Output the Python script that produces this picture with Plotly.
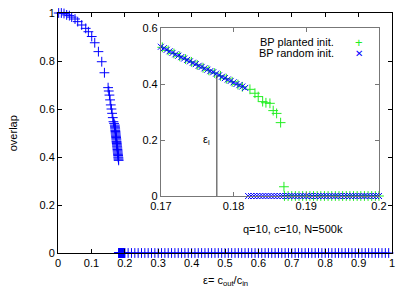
import plotly.graph_objects as go

# ---------------- data ----------------
# main panel: overlap vs epsilon (random init), coarse part
main_eps_curve = [0.002, 0.010, 0.018, 0.026, 0.034, 0.041, 0.051, 0.059, 0.071, 0.083,
                  0.091, 0.101, 0.110, 0.121, 0.131, 0.139, 0.150, 0.152, 0.154, 0.156,
                  0.158, 0.160, 0.162, 0.164, 0.166, 0.168]
main_ov_curve = [1.0, 1.0, 0.998, 0.992, 0.989, 0.983, 0.975, 0.964, 0.950, 0.936,
                 0.922, 0.902, 0.876, 0.839, 0.797, 0.751, 0.689, 0.675, 0.658, 0.638,
                 0.617, 0.600, 0.582, 0.564, 0.547, 0.540]
main_zero_eps = [0.21, 0.22, 0.23, 0.24, 0.25, 0.26, 0.27, 0.28, 0.29, 0.30,
                 0.31, 0.32, 0.33, 0.34, 0.35, 0.36, 0.37, 0.38, 0.39, 0.40,
                 0.41, 0.42, 0.43, 0.44, 0.45, 0.46, 0.47, 0.48, 0.49, 0.50,
                 0.51, 0.52, 0.53, 0.54, 0.55, 0.56, 0.57, 0.58, 0.59, 0.60,
                 0.61, 0.62, 0.63, 0.64, 0.65, 0.66, 0.67, 0.68, 0.69, 0.70,
                 0.71, 0.72, 0.73, 0.74, 0.75, 0.76, 0.77, 0.78, 0.79, 0.80,
                 0.81, 0.82, 0.83, 0.84, 0.85, 0.86, 0.87, 0.88, 0.89, 0.90,
                 0.91, 0.92, 0.93, 0.94, 0.95, 0.96, 0.97, 0.98, 0.99]

# inset: BP random init. (blue x)
rand_eps = [0.1700, 0.1704, 0.1708, 0.1712, 0.1716, 0.1720, 0.1724, 0.1728, 0.1732, 0.1736,
            0.1740, 0.1744, 0.1748, 0.1752, 0.1756, 0.1760, 0.1764, 0.1768, 0.1772, 0.1776,
            0.1780, 0.1784, 0.1788, 0.1792, 0.1796, 0.1800, 0.1804, 0.1808, 0.1812, 0.1816]
rand_ov = [0.533, 0.528, 0.522, 0.517, 0.511, 0.506, 0.501, 0.496, 0.491, 0.486,
           0.481, 0.476, 0.471, 0.465, 0.461, 0.456, 0.451, 0.446, 0.442, 0.437,
           0.431, 0.426, 0.421, 0.416, 0.411, 0.406, 0.400, 0.396, 0.391, 0.386]
rand_zero_eps = [0.1820, 0.1824, 0.1828, 0.1832, 0.1836, 0.1840, 0.1844, 0.1848, 0.1852, 0.1856,
                 0.1860, 0.1864, 0.1868, 0.1872, 0.1876, 0.1880, 0.1884, 0.1888, 0.1892, 0.1896,
                 0.1900, 0.1904, 0.1908, 0.1912, 0.1916, 0.1920, 0.1924, 0.1928, 0.1932, 0.1936,
                 0.1940, 0.1944, 0.1948, 0.1952, 0.1956, 0.1960, 0.1964, 0.1968, 0.1972, 0.1976,
                 0.1980, 0.1984, 0.1988, 0.1992, 0.1996, 0.2000]

# inset: BP planted init. (green +)
plant_eps = [0.1702, 0.1710, 0.1718, 0.1726, 0.1734, 0.1742, 0.1750, 0.1758, 0.1766, 0.1774,
             0.1782, 0.1790, 0.1798, 0.1806, 0.1812, 0.18225, 0.18294, 0.18339, 0.1840, 0.18445,
             0.1850, 0.18545, 0.18592, 0.18647, 0.18693]
plant_ov = [0.531, 0.520, 0.509, 0.499, 0.489, 0.479, 0.468, 0.458, 0.449, 0.439,
            0.429, 0.419, 0.408, 0.398, 0.390, 0.381, 0.367, 0.355, 0.337, 0.333,
            0.331, 0.305, 0.295, 0.262, 0.033]
plant_zero_eps = [0.1870, 0.1875, 0.1880, 0.1885, 0.1890, 0.1895, 0.1900, 0.1905, 0.1910, 0.1915,
                  0.1920, 0.1925, 0.1930, 0.1935, 0.1940, 0.1945, 0.1950, 0.1955, 0.1960, 0.1965,
                  0.1970, 0.1975, 0.1980, 0.1985, 0.1990, 0.1995, 0.2000]

EPS_L = 0.1777        # transition marker epsilon_l
EPS_L_TOP = 0.43      # height of the vertical marker line

# ---------------- figure ----------------
FONT = "Liberation Sans, Arial, sans-serif"
BLUE = "#0000ff"
GREEN = "#22ee22"

main_x = main_eps_curve + rand_eps + rand_zero_eps + main_zero_eps
main_y = main_ov_curve + rand_ov + [0.0] * len(rand_zero_eps) + [0.0] * len(main_zero_eps)

fig = go.Figure()

fig.add_trace(go.Scatter(
    x=main_x, y=main_y, mode="markers", showlegend=False, cliponaxis=False,
    marker=dict(symbol="cross-thin", size=7, color=BLUE, line=dict(color=BLUE, width=1)),
    xaxis="x", yaxis="y"))

fig.add_trace(go.Scatter(
    x=plant_eps + plant_zero_eps, y=plant_ov + [0.0] * len(plant_zero_eps),
    mode="markers", showlegend=False, cliponaxis=False,
    marker=dict(symbol="cross-thin", size=7, color=GREEN, line=dict(color=GREEN, width=1)),
    xaxis="x2", yaxis="y2"))

fig.add_trace(go.Scatter(
    x=rand_eps + rand_zero_eps, y=rand_ov + [0.0] * len(rand_zero_eps),
    mode="markers", showlegend=False, cliponaxis=False,
    marker=dict(symbol="x-thin", size=6, color=BLUE, line=dict(color=BLUE, width=1)),
    xaxis="x2", yaxis="y2"))

# epsilon_l marker line
fig.add_trace(go.Scatter(
    x=[EPS_L, EPS_L], y=[0, EPS_L_TOP], mode="lines", showlegend=False,
    line=dict(color="#333333", width=1), xaxis="x2", yaxis="y2"))

axis_common = dict(showgrid=False, zeroline=False, showline=True, mirror="ticks",
                   ticks="inside", ticklen=4, automargin=False, ticklabeloverflow="allow",
                   tickfont=dict(family=FONT, size=11, color="black"))

# the page body has an 8px margin, so the figure is drawn 8px smaller
fig.update_layout(
    width=403, height=280,
    margin=dict(l=50, r=19, t=5, b=35, autoexpand=False),
    paper_bgcolor="white", plot_bgcolor="white",
    font=dict(family=FONT, size=11, color="black"),
    xaxis=dict(domain=[0, 1], range=[0, 1], dtick=0.1, tick0=0,
               linecolor="black", linewidth=1, tickcolor="black", **axis_common),
    yaxis=dict(domain=[0, 1], range=[0, 1], dtick=0.2, tick0=0,
               linecolor="black", linewidth=1, tickcolor="black", **axis_common),
    xaxis2=dict(domain=[0.308, 0.961], range=[0.17, 0.2], dtick=0.01, tick0=0.17,
                anchor="y2", linecolor="#777777", linewidth=1, tickcolor="#777777",
                **axis_common),
    yaxis2=dict(domain=[0.2375, 0.9375], range=[0, 0.6], dtick=0.2, tick0=0,
                anchor="x2", linecolor="#777777", linewidth=1, tickcolor="#777777",
                **axis_common),
    annotations=[
        dict(text="overlap", xref="paper", yref="paper", x=-0.134, y=0.5, textangle=-90,
             xanchor="center", yanchor="middle", showarrow=False, font=dict(size=11)),
        dict(text="ε= c<sub>out</sub>/c<sub>in</sub>", xref="paper", yref="paper",
             x=0.5, y=-0.118, xanchor="center", yanchor="middle", showarrow=False,
             font=dict(size=11)),
        dict(text="BP planted init.", xref="paper", yref="paper", x=0.832, y=0.879,
             xanchor="right", yanchor="middle", showarrow=False, font=dict(size=11)),
        dict(text="BP random init.", xref="paper", yref="paper", x=0.832, y=0.833,
             xanchor="right", yanchor="middle", showarrow=False, font=dict(size=11)),
        dict(text="+", xref="paper", yref="paper", x=0.901, y=0.879,
             xanchor="center", yanchor="middle", showarrow=False,
             font=dict(size=13, color=GREEN)),
        dict(text="✕", xref="paper", yref="paper", x=0.901, y=0.833,
             xanchor="center", yanchor="middle", showarrow=False,
             font=dict(size=10, color=BLUE)),
        dict(text="q=10, c=10, N=500k", xref="paper", yref="paper", x=0.704, y=0.10,
             xanchor="center", yanchor="middle", showarrow=False, font=dict(size=11)),
        dict(text="ε<sub>l</sub>", xref="x2", yref="y2", x=0.1763, y=0.2,
             xanchor="center", yanchor="middle", showarrow=False, font=dict(size=11)),
    ],
)

fig.write_html("out.html")
